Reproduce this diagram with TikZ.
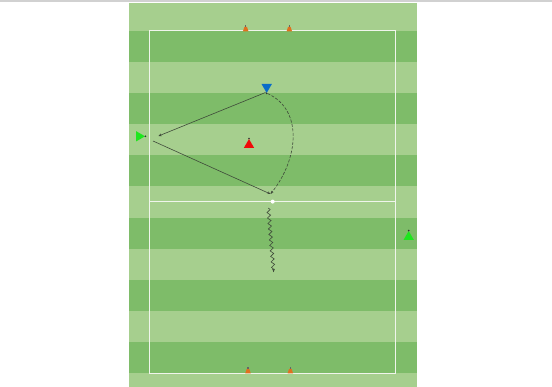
\documentclass[tikz,border=0pt]{standalone}
\usetikzlibrary{shapes.geometric,decorations.pathmorphing,arrows.meta,calc}
\definecolor{lightg}{HTML}{A6CF8E}
\definecolor{darkg}{HTML}{7EBC69}
\definecolor{linew}{HTML}{F0F5EC}
\definecolor{coneor}{HTML}{E0701E}
\definecolor{pblue}{HTML}{0A6CC8}
\definecolor{pgreen}{HTML}{1EE61E}
\definecolor{pred}{HTML}{F00A0A}
\definecolor{arrowc}{HTML}{3F4A3A}
\tikzset{
  player/.style={regular polygon, regular polygon sides=3, minimum size=12pt, inner sep=0pt, draw=none},
  tipdot/.style={circle, fill=black!80, inner sep=0pt, minimum size=1.8pt},
  run/.style={draw=arrowc, line width=0.6pt, -{Stealth[length=3.2pt,width=2.8pt]}},
  dashrun/.style={draw=arrowc, line width=0.6pt, dash pattern=on 3pt off 1.5pt, -{Stealth[length=3.2pt,width=2.8pt]}},
  dribble/.style={draw=arrowc, line width=0.6pt, decorate, decoration={snake, amplitude=1.7pt, segment length=5.5pt, post length=3pt}},
  fieldline/.style={draw=linew, line width=0.9pt}
}
\newcommand{\conemark}[2]{%
  \fill[coneor] (#1-2.8,#2+0.5) -- (#1-1.3,#2-4) -- (#1+1.3,#2-4) -- (#1+2.8,#2+0.5) -- cycle;
  \fill[black!60] (#1-0.6,#2-6) rectangle (#1+0.6,#2-3.5);
}
\begin{document}
\begin{tikzpicture}[x=1pt,y=-1pt]
\useasboundingbox (0,0) rectangle (552,387);
\fill[white] (0,0) rectangle (552,387);
\fill[black!18] (0,0) rectangle (552,2);
% field stripes
\begin{scope}
\clip (129,4) rectangle (417,387);
\foreach \i in {0,...,12}{
  \pgfmathsetmacro{\ya}{-0.1+31.1*\i}
  \pgfmathsetmacro{\yb}{\ya+31.1}
  \ifodd\i \fill[darkg] (129,\ya) rectangle (417,\yb);
  \else \fill[lightg] (129,\ya) rectangle (417,\yb); \fi
}
\end{scope}
% field lines
\draw[fieldline] (149.7,30.7) rectangle (395.7,373.7);
\draw[fieldline] (149.7,201.5) -- (395.7,201.5);
\node[circle, fill=white, inner sep=0pt, minimum size=4pt] (centre) at (272.7,201.6) {};
% cones
\conemark{245.7}{31}
\conemark{289.3}{31}
\conemark{248}{373}
\conemark{290.3}{373}
% players
\node[player, fill=pblue, shape border rotate=180] (blue) at (266.7,87) {};
\node[tipdot] at (blue.corner 1) {};
\node[player, fill=pgreen, shape border rotate=-90] (gleft) at (139,136.3) {};
\node[tipdot] at (gleft.corner 1) {};
\node[player, fill=pred] (red) at (249,145) {};
\node[tipdot] at (red.corner 1) {};
\node[player, fill=pgreen] (gright) at (408.7,237) {};
\node[tipdot] at (gright.corner 1) {};
% movement coordinates
\coordinate (passend) at (158.5,136);
\coordinate (runstart) at (153,141);
\coordinate (meet) at (270.5,194);
\coordinate (dribstart) at (268.3,208);
\coordinate (dribend) at (273.6,272);
\coordinate (dribtip) at ($(dribend)+(-0.05,-3)$);
% connectors
\draw[run] (265.5,92.5) -- (passend);
\draw[run] (runstart) -- (meet);
\draw[dashrun] (267.5,93.5) .. controls (304,110) and (298,160) .. (meet);
\draw[dribble] (dribstart) -- (dribend);
\draw[run] (dribtip) -- (dribend);
\end{tikzpicture}
\end{document}
